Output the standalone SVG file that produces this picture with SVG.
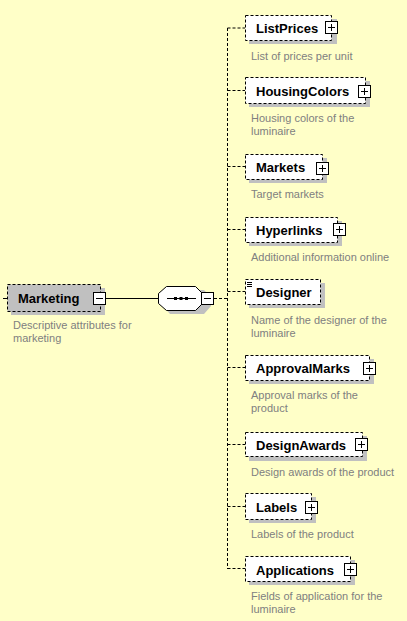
<svg xmlns="http://www.w3.org/2000/svg" width="407" height="621" viewBox="0 0 407 621">
<style>
.bg{fill:#ffffc8}
.box{fill:#fff;stroke:#000;stroke-width:1;stroke-dasharray:3,2}
.sh{fill:#c0c0c0}
.lbl{font-family:"Liberation Sans",Arial,sans-serif;font-weight:bold;font-size:13px;fill:#000}
.desc{font-family:"Liberation Sans",Arial,sans-serif;font-size:11px;fill:#808080}
.pm{fill:#fff;stroke:#000;stroke-width:1}
.pl{stroke:#000;stroke-width:1;fill:none}
.dash{stroke:#000;stroke-width:1;stroke-dasharray:3,2;fill:none}
</style>
<defs>
<g id="plus"><rect class="pm" x="0.5" y="0.5" width="12" height="12"/><path class="pl" d="M3 6.5H10M6.5 3V10"/></g>
<g id="minus"><rect class="pm" x="0.5" y="0.5" width="12" height="12"/><path class="pl" d="M3 6.5H10"/></g>
</defs>
<rect class="bg" x="0" y="0" width="407" height="621"/>
<g id="connectors">
<path class="pl" d="M3 298.5H7"/>
<path class="pl" d="M106 298.5H158"/>
<path class="dash" d="M214 298.5H227.5"/>
<path class="dash" d="M227.5 28V569"/>
<path class="dash" d="M227.5 28H245M227.5 90.5H245M227.5 166.5H245M227.5 229.5H245M227.5 291.5H245M227.5 367.5H245M227.5 444.5H245M227.5 506.5H245M227.5 568.5H245"/>
</g>
<g id="Marketing">
<rect class="sh" x="11" y="288" width="94" height="27"/>
<rect x="7.5" y="284.5" width="93" height="27" fill="#c0c0c0" stroke="#000" stroke-dasharray="3,2"/>
<text class="lbl" x="18" y="303">Marketing</text>
<use href="#minus" x="93" y="292"/>
<text class="desc" x="13" y="329">Descriptive attributes for</text>
<text class="desc" x="13" y="342">marketing</text>
</g>
<g id="sequence">
<path class="sh" d="M170 290H204L211 297V306L204 314H170L163 306V297Z"/>
<path d="M166.5 286.5H195.5L202.5 293.5V303.5L195.5 310.5H166.5L158.5 303.5V293.5Z" fill="#fff" stroke="#000"/>
<path class="pl" d="M167 298.5H196"/>
<rect x="174" y="297" width="3" height="3" fill="#000"/>
<rect x="179.5" y="297" width="3" height="3" fill="#000"/>
<rect x="185" y="297" width="3" height="3" fill="#000"/>
<use href="#minus" x="201" y="292"/>
</g>
<g id="ListPrices">
<rect class="sh" x="249" y="19" width="88" height="25"/>
<rect class="box" x="245.5" y="15.5" width="86" height="25"/>
<text class="lbl" x="256" y="33">ListPrices</text>
<use href="#plus" x="325" y="21"/>
<text class="desc" x="251" y="60">List of prices per unit</text>
</g>
<g id="HousingColors">
<rect class="sh" x="249" y="81" width="121" height="26"/>
<rect class="box" x="245.5" y="77.5" width="120" height="26"/>
<text class="lbl" x="256" y="96">HousingColors</text>
<use href="#plus" x="358" y="85"/>
<text class="desc" x="251" y="122">Housing colors of the</text>
<text class="desc" x="251" y="135">luminaire</text>
</g>
<g id="Markets">
<rect class="sh" x="249" y="158" width="78" height="25"/>
<rect class="box" x="245.5" y="154.5" width="77" height="25"/>
<text class="lbl" x="256" y="172">Markets</text>
<use href="#plus" x="316" y="162"/>
<text class="desc" x="251" y="198">Target markets</text>
</g>
<g id="Hyperlinks">
<rect class="sh" x="249" y="221" width="93" height="25"/>
<rect class="box" x="245.5" y="217.5" width="92" height="25"/>
<text class="lbl" x="256" y="235">Hyperlinks</text>
<use href="#plus" x="333" y="223"/>
<text class="desc" x="251" y="261">Additional information online</text>
</g>
<g id="Designer">
<rect class="sh" x="249" y="283" width="76" height="25"/>
<rect class="box" x="245.5" y="279.5" width="75" height="25"/>
<path class="pl" d="M247 282.5H252M247 284.5H252M247 286.5H252"/>
<text class="lbl" x="256" y="297">Designer</text>
<text class="desc" x="251" y="324">Name of the designer of the</text>
<text class="desc" x="251" y="337">luminaire</text>
</g>
<g id="ApprovalMarks">
<rect class="sh" x="249" y="359" width="125" height="25"/>
<rect class="box" x="245.5" y="355.5" width="124" height="25"/>
<text class="lbl" x="256" y="373">ApprovalMarks</text>
<use href="#plus" x="363" y="362"/>
<text class="desc" x="251" y="399">Approval marks of the</text>
<text class="desc" x="251" y="412">product</text>
</g>
<g id="DesignAwards">
<rect class="sh" x="249" y="436" width="118" height="25"/>
<rect class="box" x="245.5" y="432.5" width="117" height="24"/>
<text class="lbl" x="256" y="450">DesignAwards</text>
<use href="#plus" x="355" y="438"/>
<text class="desc" x="251" y="476">Design awards of the product</text>
</g>
<g id="Labels">
<rect class="sh" x="249" y="497" width="67" height="26"/>
<rect class="box" x="245.5" y="493.5" width="66" height="26"/>
<text class="lbl" x="256" y="512">Labels</text>
<use href="#plus" x="305" y="501"/>
<text class="desc" x="251" y="538">Labels of the product</text>
</g>
<g id="Applications">
<rect class="sh" x="249" y="560" width="106" height="25"/>
<rect class="box" x="245.5" y="556.5" width="105" height="25"/>
<text class="lbl" x="256" y="575">Applications</text>
<use href="#plus" x="344" y="563"/>
<text class="desc" x="251" y="600">Fields of application for the</text>
<text class="desc" x="251" y="613">luminaire</text>
</g>
</svg>
